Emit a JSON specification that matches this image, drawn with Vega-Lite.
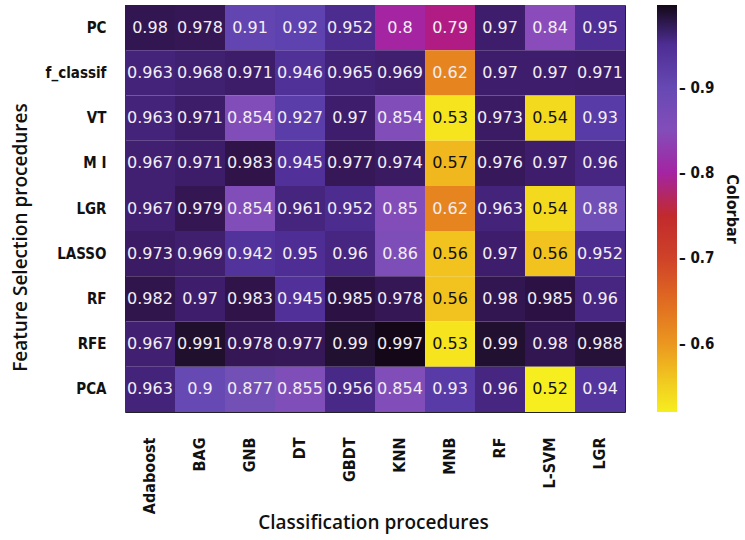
{
  "$schema": "https://vega.github.io/schema/vega-lite/v6.json",
  "width": 500,
  "height": 407,
  "autosize": {"type": "none"},
  "padding": {"left": 125, "top": 5, "right": 120, "bottom": 128},
  "background": "white",
  "config": {"view": {"stroke": "#222", "strokeWidth": 1}},
  "data": {
    "values": [
      {"fs": "PC", "clf": "Adaboost", "v": 0.98}, {"fs": "PC", "clf": "BAG", "v": 0.978}, {"fs": "PC", "clf": "GNB", "v": 0.91}, {"fs": "PC", "clf": "DT", "v": 0.92}, {"fs": "PC", "clf": "GBDT", "v": 0.952}, {"fs": "PC", "clf": "KNN", "v": 0.8}, {"fs": "PC", "clf": "MNB", "v": 0.79}, {"fs": "PC", "clf": "RF", "v": 0.97}, {"fs": "PC", "clf": "L-SVM", "v": 0.84}, {"fs": "PC", "clf": "LGR", "v": 0.95},
      {"fs": "f_classif", "clf": "Adaboost", "v": 0.963}, {"fs": "f_classif", "clf": "BAG", "v": 0.968}, {"fs": "f_classif", "clf": "GNB", "v": 0.971}, {"fs": "f_classif", "clf": "DT", "v": 0.946}, {"fs": "f_classif", "clf": "GBDT", "v": 0.965}, {"fs": "f_classif", "clf": "KNN", "v": 0.969}, {"fs": "f_classif", "clf": "MNB", "v": 0.62}, {"fs": "f_classif", "clf": "RF", "v": 0.97}, {"fs": "f_classif", "clf": "L-SVM", "v": 0.97}, {"fs": "f_classif", "clf": "LGR", "v": 0.971},
      {"fs": "VT", "clf": "Adaboost", "v": 0.963}, {"fs": "VT", "clf": "BAG", "v": 0.971}, {"fs": "VT", "clf": "GNB", "v": 0.854}, {"fs": "VT", "clf": "DT", "v": 0.927}, {"fs": "VT", "clf": "GBDT", "v": 0.97}, {"fs": "VT", "clf": "KNN", "v": 0.854}, {"fs": "VT", "clf": "MNB", "v": 0.53}, {"fs": "VT", "clf": "RF", "v": 0.973}, {"fs": "VT", "clf": "L-SVM", "v": 0.54}, {"fs": "VT", "clf": "LGR", "v": 0.93},
      {"fs": "M I", "clf": "Adaboost", "v": 0.967}, {"fs": "M I", "clf": "BAG", "v": 0.971}, {"fs": "M I", "clf": "GNB", "v": 0.983}, {"fs": "M I", "clf": "DT", "v": 0.945}, {"fs": "M I", "clf": "GBDT", "v": 0.977}, {"fs": "M I", "clf": "KNN", "v": 0.974}, {"fs": "M I", "clf": "MNB", "v": 0.57}, {"fs": "M I", "clf": "RF", "v": 0.976}, {"fs": "M I", "clf": "L-SVM", "v": 0.97}, {"fs": "M I", "clf": "LGR", "v": 0.96},
      {"fs": "LGR", "clf": "Adaboost", "v": 0.967}, {"fs": "LGR", "clf": "BAG", "v": 0.979}, {"fs": "LGR", "clf": "GNB", "v": 0.854}, {"fs": "LGR", "clf": "DT", "v": 0.961}, {"fs": "LGR", "clf": "GBDT", "v": 0.952}, {"fs": "LGR", "clf": "KNN", "v": 0.85}, {"fs": "LGR", "clf": "MNB", "v": 0.62}, {"fs": "LGR", "clf": "RF", "v": 0.963}, {"fs": "LGR", "clf": "L-SVM", "v": 0.54}, {"fs": "LGR", "clf": "LGR", "v": 0.88},
      {"fs": "LASSO", "clf": "Adaboost", "v": 0.973}, {"fs": "LASSO", "clf": "BAG", "v": 0.969}, {"fs": "LASSO", "clf": "GNB", "v": 0.942}, {"fs": "LASSO", "clf": "DT", "v": 0.95}, {"fs": "LASSO", "clf": "GBDT", "v": 0.96}, {"fs": "LASSO", "clf": "KNN", "v": 0.86}, {"fs": "LASSO", "clf": "MNB", "v": 0.56}, {"fs": "LASSO", "clf": "RF", "v": 0.97}, {"fs": "LASSO", "clf": "L-SVM", "v": 0.56}, {"fs": "LASSO", "clf": "LGR", "v": 0.952},
      {"fs": "RF", "clf": "Adaboost", "v": 0.982}, {"fs": "RF", "clf": "BAG", "v": 0.97}, {"fs": "RF", "clf": "GNB", "v": 0.983}, {"fs": "RF", "clf": "DT", "v": 0.945}, {"fs": "RF", "clf": "GBDT", "v": 0.985}, {"fs": "RF", "clf": "KNN", "v": 0.978}, {"fs": "RF", "clf": "MNB", "v": 0.56}, {"fs": "RF", "clf": "RF", "v": 0.98}, {"fs": "RF", "clf": "L-SVM", "v": 0.985}, {"fs": "RF", "clf": "LGR", "v": 0.96},
      {"fs": "RFE", "clf": "Adaboost", "v": 0.967}, {"fs": "RFE", "clf": "BAG", "v": 0.991}, {"fs": "RFE", "clf": "GNB", "v": 0.978}, {"fs": "RFE", "clf": "DT", "v": 0.977}, {"fs": "RFE", "clf": "GBDT", "v": 0.99}, {"fs": "RFE", "clf": "KNN", "v": 0.997}, {"fs": "RFE", "clf": "MNB", "v": 0.53}, {"fs": "RFE", "clf": "RF", "v": 0.99}, {"fs": "RFE", "clf": "L-SVM", "v": 0.98}, {"fs": "RFE", "clf": "LGR", "v": 0.988},
      {"fs": "PCA", "clf": "Adaboost", "v": 0.963}, {"fs": "PCA", "clf": "BAG", "v": 0.9}, {"fs": "PCA", "clf": "GNB", "v": 0.877}, {"fs": "PCA", "clf": "DT", "v": 0.855}, {"fs": "PCA", "clf": "GBDT", "v": 0.956}, {"fs": "PCA", "clf": "KNN", "v": 0.854}, {"fs": "PCA", "clf": "MNB", "v": 0.93}, {"fs": "PCA", "clf": "RF", "v": 0.96}, {"fs": "PCA", "clf": "L-SVM", "v": 0.52}, {"fs": "PCA", "clf": "LGR", "v": 0.94}
    ]
  },
  "encoding": {
    "x": {
      "field": "clf", "type": "nominal",
      "sort": ["Adaboost", "BAG", "GNB", "DT", "GBDT", "KNN", "MNB", "RF", "L-SVM", "LGR"],
      "scale": {"paddingInner": 0, "paddingOuter": 0},
      "axis": {
        "title": "Classification procedures", "titleFont": "Open Sans", "titleFontSize": 19, "titleFontWeight": 600, "titleColor": "#111",
        "titleX": 248, "titleY": 110, "titleAlign": "center", "titleBaseline": "middle",
        "labelAngle": -90, "labelAlign": "right", "labelBaseline": "middle", "labelPadding": 25,
        "labelFont": "DejaVu Sans Condensed", "labelFontSize": 16, "labelFontWeight": "bold", "labelColor": "#111",
        "ticks": false, "domain": false
      }
    },
    "y": {
      "field": "fs", "type": "nominal",
      "sort": ["PC", "f_classif", "VT", "M I", "LGR", "LASSO", "RF", "RFE", "PCA"],
      "scale": {"paddingInner": 0, "paddingOuter": 0},
      "axis": {
        "title": "Feature Selection procedures", "titleFont": "Open Sans", "titleFontSize": 19, "titleFontWeight": 600, "titleColor": "#111",
        "titleAngle": -90, "titleX": -105, "titleY": 232, "titleAlign": "center", "titleBaseline": "middle",
        "labelPadding": 19,
        "labelFont": "DejaVu Sans Condensed", "labelFontSize": 15, "labelFontWeight": "bold", "labelColor": "#111",
        "ticks": false, "domain": false
      }
    }
  },
  "layer": [
    {
      "mark": {"type": "rect"},
      "encoding": {
        "color": {
          "field": "v", "type": "quantitative",
          "scale": {
            "domain": [0.52, 0.55, 0.58, 0.62, 0.66, 0.70, 0.75, 0.78, 0.80, 0.84, 0.88, 0.92, 0.95, 0.97, 0.985, 0.997],
            "range": ["#f6ee1e", "#f2d020", "#eeaa20", "#e68420", "#de6222", "#cf4228", "#c12a2c", "#b3246a", "#a424a2", "#8a4cba", "#7050b6", "#5e42b0", "#4e2e94", "#3e1e6c", "#2c1244", "#140818"]
          },
          "legend": {
            "orient": "none", "legendX": 532, "legendY": 0,
            "direction": "vertical",
            "gradientLength": 407, "gradientThickness": 20, "gradientStrokeWidth": 0,
            "values": [0.6, 0.7, 0.8, 0.9],
            "format": ".1f",
            "labelExpr": "'\u2013 ' + datum.label",
            "labelFont": "DejaVu Sans Condensed", "labelFontSize": 15, "labelFontWeight": "bold", "labelColor": "#111", "labelOffset": 2,
            "title": "Colorbar", "titleOrient": "right", "titleAngle": -90, "titleFont": "DejaVu Sans Condensed", "titleFontSize": 16, "titleFontWeight": "bold", "titleColor": "#111",
            "titleAnchor": "middle", "titleBaseline": "bottom", "titlePadding": 10
          }
        }
      }
    },
    {
      "mark": {"type": "text", "font": "DejaVu Sans", "fontSize": 16, "align": "center", "baseline": "middle"},
      "encoding": {
        "text": {"field": "v", "type": "quantitative", "format": "~g"},
        "color": {
          "condition": {"test": "datum.v < 0.6", "value": "#111111"},
          "value": "#f4eef4"
        }
      }
    }
  ]
}
